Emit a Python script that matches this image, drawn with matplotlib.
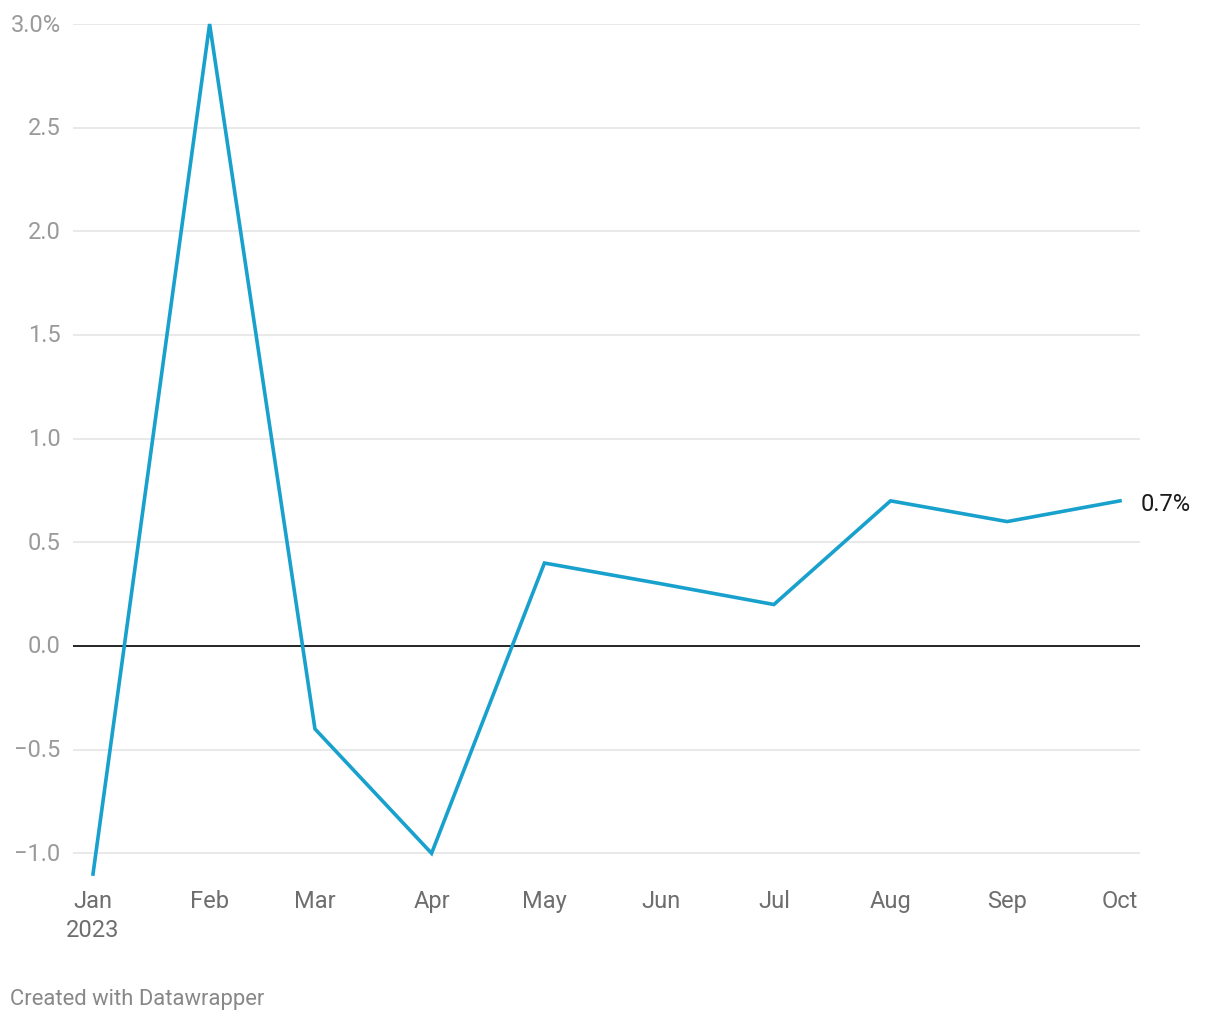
import matplotlib
matplotlib.use("Agg")
import matplotlib.pyplot as plt
import matplotlib.dates as mdates
import datetime as dt

months = ["2023-01-01", "2023-02-01", "2023-03-01", "2023-04-01", "2023-05-01",
          "2023-06-01", "2023-07-01", "2023-08-01", "2023-09-01", "2023-10-01"]
values = [-1.1, 3.0, -0.4, -1.0, 0.4, 0.3, 0.2, 0.7, 0.6, 0.7]
month_labels = ["Jan\n2023", "Feb", "Mar", "Apr", "May", "Jun", "Jul", "Aug", "Sep", "Oct"]
y_ticks = [-1.0, -0.5, 0.0, 0.5, 1.0, 1.5, 2.0, 2.5, 3.0]
y_labels = ["\u22121.0", "\u22120.5", "0.0", "0.5", "1.0", "1.5", "2.0", "2.5", "3.0%"]

plt.rcParams['font.family'] = ['Roboto', 'DejaVu Sans']

W, H = 1220, 1020
fig = plt.figure(figsize=(W / 100, H / 100), dpi=100)

dates = [dt.datetime.strptime(m, "%Y-%m-%d") for m in months]
xs = mdates.date2num(dates)

left_px, right_px = 73, 1140
top_px, bottom_px = 25, 885.4
ax = fig.add_axes([left_px / W, 1 - bottom_px / H, (right_px - left_px) / W, (bottom_px - top_px) / H])

ppd = (1120 - 93) / (xs[-1] - xs[0])
ax.set_xlim(xs[0] - 20 / ppd, xs[-1] + 20 / ppd)
ax.set_ylim(-1.15, 3.0)

for t in y_ticks:
    if t == 0:
        ax.axhline(t, color="#000000", lw=1.2, zorder=2)
    else:
        ax.axhline(t, color="#e3e3e3", lw=1.1, zorder=1)

ax.plot(xs, values, color="#18a1cd", lw=2.6, solid_joinstyle="miter", clip_on=False, zorder=3)

for s in ax.spines.values():
    s.set_visible(False)
ax.set_yticks(y_ticks)
ax.set_yticklabels(y_labels, color="#9a9a9a", fontsize=17)
ax.set_xticks(xs)
ax.set_xticklabels(month_labels, color="#6e6e6e", fontsize=17, linespacing=1.32)
ax.tick_params(axis="y", length=0, pad=9)
ax.tick_params(axis="x", length=0, pad=3.5)
for lab in ax.get_yticklabels():
    lab.set_verticalalignment("center")

ax.annotate("0.7%", xy=(xs[-1], values[-1]), xytext=(15, -2), textcoords="offset points",
            fontsize=17, color="#1a1a1a", va="center", ha="left", annotation_clip=False)

fig.text(10 / W, 1 - 999.5 / H, "Created with Datawrapper", fontsize=15.8, color="#888888",
         ha="left", va="center")

fig.savefig("out.png", dpi=100, facecolor="white")
